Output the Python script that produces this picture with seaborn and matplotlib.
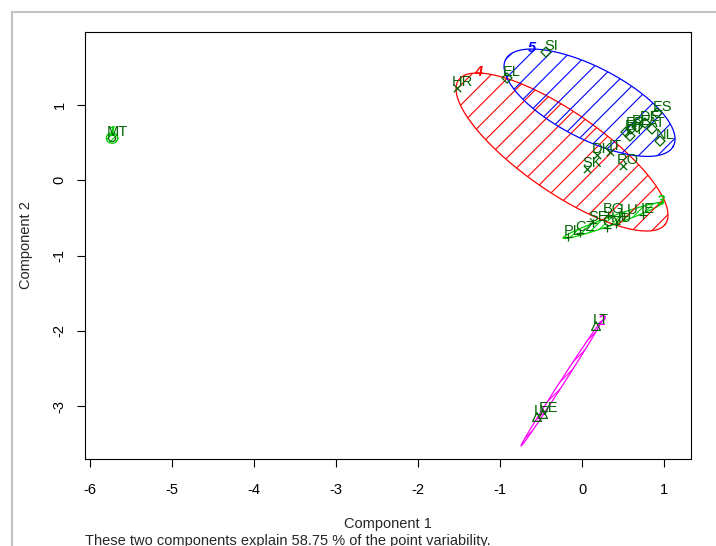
import numpy as np
import pandas as pd
import matplotlib
matplotlib.use("Agg")
import matplotlib.pyplot as plt
from matplotlib.patches import Polygon
from matplotlib.lines import Line2D
import seaborn as sns

# Country scores on the first two principal components, with cluster membership
codes = ["MT",
         "LT", "LV", "EE",
         "PL", "CZ", "SE", "CY", "HU", "BG", "LU", "IE",
         "HR", "DK", "IT", "SK", "RO",
         "SI", "EL", "ES", "FI", "FR", "BE", "DE", "AT", "PT", "NL"]
comp1 = [-5.726,
         0.168, -0.551, -0.477,
         -0.173, -0.027, 0.132, 0.302, 0.412, 0.314, 0.509, 0.741,
         -1.525, 0.180, 0.339, 0.058, 0.497,
         -0.441, -0.916, 0.911, 0.533, 0.594, 0.667, 0.765, 0.850, 0.582, 0.948]
comp2 = [0.562,
         -1.936, -3.145, -3.106,
         -0.754, -0.701, -0.568, -0.634, -0.581, -0.462, -0.475, -0.461,
         1.226, 0.336, 0.376, 0.148, 0.190,
         1.705, 1.359, 0.894, 0.642, 0.682, 0.708, 0.761, 0.682, 0.589, 0.522]
cluster = [1,
           2, 2, 2,
           3, 3, 3, 3, 3, 3, 3, 3,
           4, 4, 4, 4, 4,
           5, 5, 5, 5, 5, 5, 5, 5, 5, 5]

# Spanning ellipses of the five clusters (centre, semi-axes, rotation in degrees)
clus_ids = [1, 2, 3, 4, 5]
ell_cx = [-5.726, -0.258, 0.369, -0.246, 0.089]
ell_cy = [0.562, -2.707, -0.534, 0.376, 1.031]
ell_a = [0.070, 0.957, 0.6465, 1.582, 1.173]
ell_b = [0.070, 0.025, 0.0557, 0.517, 0.467]
ell_angle = [0.0, 59.4, 21.2, -37.7, -30.1]

explained = 58.75
xticks = [-6, -5, -4, -3, -2, -1, 0, 1]
yticks = [-3, -2, -1, 0, 1]

df = pd.DataFrame({"code": codes, "comp1": comp1, "comp2": comp2, "cluster": cluster})

sns.set_style("white")
plt.rcParams["font.family"] = ["Liberation Sans", "DejaVu Sans"]
plt.rcParams["axes.unicode_minus"] = False

DKGREEN = "#006400"
clus_col = {1: "#00CD00", 2: "#FF00FF", 3: "#00CD00", 4: "#FF0000", 5: "#0000FF"}
hatch_gap = {1: 4.0, 2: 5.0, 3: 5.0, 4: 14.0, 5: 13.5}
W, H = 716, 546

fig = plt.figure(figsize=(W / 100, H / 100), dpi=100)
fig.patch.set_facecolor("white")
ax = fig.add_axes([84.5 / W, 1 - 459 / H, (691.5 - 84.5) / W, (459 - 32) / H])
ax.set_xlim(-6.062, 1.331)
ax.set_ylim(-3.704, 1.971)

for s in ax.spines.values():
    s.set_color("black")
    s.set_linewidth(0.8)
ax.set_xticks(xticks)
ax.set_xticklabels([str(t) for t in xticks], fontsize=10.5)
ax.set_yticks(yticks)
ax.set_yticklabels([str(t) for t in yticks], fontsize=10.5, rotation=90, va="center")
ax.tick_params(axis="both", direction="out", length=5.5, width=0.8, color="black",
               labelcolor="black", bottom=True, left=True)
ax.tick_params(axis="x", pad=12)
ax.tick_params(axis="y", pad=7.5)


def ellipse_xy(cx, cy, a, b, ang, n=300):
    t = np.linspace(0, 2 * np.pi, n)
    th = np.deg2rad(ang)
    x = cx + a * np.cos(t) * np.cos(th) - b * np.sin(t) * np.sin(th)
    y = cy + a * np.cos(t) * np.sin(th) + b * np.sin(t) * np.cos(th)
    return x, y


inv = ax.transData.inverted()
for k, cx, cy, a, b, ang in zip(clus_ids, ell_cx, ell_cy, ell_a, ell_b, ell_angle):
    col = clus_col[k]
    ex, ey = ellipse_xy(cx, cy, a, b, ang)
    clip = Polygon(np.column_stack([ex, ey]), closed=True, fill=False,
                   edgecolor="none", transform=ax.transData)
    ax.add_patch(clip)
    # shading lines at 45 degrees on screen
    disp = ax.transData.transform(np.column_stack([ex, ey]))
    c = disp[:, 1] - disp[:, 0]
    step = hatch_gap[k] * np.sqrt(2)
    x0, x1 = disp[:, 0].min() - 5, disp[:, 0].max() + 5
    for cc in np.arange(np.floor(c.min() / step) * step, c.max() + step, step):
        p = inv.transform([[x0, x0 + cc], [x1, x1 + cc]])
        ln, = ax.plot(p[:, 0], p[:, 1], color=col, lw=0.8, zorder=2)
        ln.set_clip_path(clip)
    ax.plot(ex, ey, color=col, lw=0.9, zorder=2)
    # cluster number at the top of its ellipse
    top = np.argmax(ey)
    ax.annotate(str(k), (ex[top], ey[top]), xytext=(0, 1), textcoords="offset pixels",
                color=col, fontsize=10.5, fontweight="bold", fontstyle="italic",
                ha="center", va="center", zorder=4)

# points, one marker shape per cluster
marker_spec = {1: ("o", 26), 2: ("^", 40), 3: ("+", 40), 4: ("x", 28), 5: ("D", 26)}
for k in clus_ids:
    sub = df[df["cluster"] == k]
    m, sz = marker_spec[k]
    if m in ("x", "+"):
        sns.scatterplot(data=sub, x="comp1", y="comp2", marker=m, s=sz, color=DKGREEN,
                        linewidth=0.9, ax=ax, legend=False, zorder=3)
    else:
        sns.scatterplot(data=sub, x="comp1", y="comp2", marker=m, s=sz, facecolor="none",
                        edgecolor=DKGREEN, linewidth=0.9, ax=ax, legend=False, zorder=3)

for _, r in df.iterrows():
    ax.annotate(r["code"], (r["comp1"], r["comp2"]), xytext=(5, 6),
                textcoords="offset pixels", ha="center", va="center",
                fontsize=10.5, color=DKGREEN, zorder=4)

ax.set_xlabel("")
ax.set_ylabel("")

fig.text(388 / W, 1 - 528 / H, "Component 1", ha="center", va="baseline", fontsize=10.5)
fig.text(26 / W, 1 - 245.5 / H, "Component 2", ha="center", va="center", rotation=90,
         fontsize=10.5)
fig.text(85 / W, 1 - 545.5 / H,
         f"These two components explain {explained:.2f} % of the point variability.",
         ha="left", va="baseline", fontsize=10.5)

# light grey frame along top and left edges
fig.add_artist(Line2D([11.5 / W, 1.0], [1 - 11.5 / H, 1 - 11.5 / H],
                      transform=fig.transFigure, color="#c4c4c4", lw=1.5))
fig.add_artist(Line2D([11.5 / W, 11.5 / W], [0.0, 1 - 11.5 / H],
                      transform=fig.transFigure, color="#c4c4c4", lw=1.5))

fig.savefig("out.png", dpi=100, facecolor="white")
